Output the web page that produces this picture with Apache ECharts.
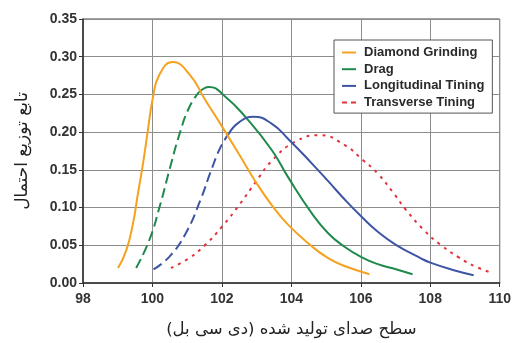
<!DOCTYPE html>
<html><head><meta charset="utf-8">
<script src="https://cdn.jsdelivr.net/npm/echarts@6/dist/echarts.min.js"></script>
<style>html,body{margin:0;padding:0;background:#fff}#c{width:514px;height:343px}</style>
</head><body><div id="c"></div>
<script>
const xTicks = [98, 100, 102, 104, 106, 108, 110];
const yTicks = [0, 0.05, 0.10, 0.15, 0.20, 0.25, 0.30, 0.35];

const diamondX = [99.01, 99.25, 99.44, 99.58, 99.72, 99.87, 100.01, 100.2, 100.58, 101.06, 101.53, 102.01, 102.49, 102.96, 103.44, 103.91, 104.58, 105.06, 105.53, 106.25];
const diamondY = [0.020, 0.044, 0.079, 0.118, 0.156, 0.203, 0.245, 0.276, 0.293, 0.277, 0.242, 0.207, 0.171, 0.135, 0.103, 0.077, 0.049, 0.033, 0.0225, 0.0117];

const dragX = [99.53, 99.91, 100.2, 100.49, 100.77, 101.06, 101.34, 101.63, 102.1, 102.68, 103.44, 103.91, 104.58, 105.06, 105.53, 106.03, 106.49, 107.06, 107.49];
const dragY = [0.020, 0.057, 0.100, 0.150, 0.196, 0.233, 0.253, 0.260, 0.247, 0.220, 0.176, 0.140, 0.093, 0.066, 0.048, 0.034, 0.025, 0.0175, 0.0117];
const dragDashEnd = 6;

const longX = [100.03, 100.49, 100.96, 101.39, 101.68, 101.96, 102.2, 102.49, 102.91, 103.44, 103.91, 104.58, 105.06, 105.53, 106.03, 106.49, 107.0, 107.72, 108.0, 108.68, 109.25];
const longY = [0.018, 0.035, 0.066, 0.111, 0.148, 0.180, 0.198, 0.213, 0.2205, 0.211, 0.191, 0.159, 0.135, 0.111, 0.0875, 0.068, 0.051, 0.033, 0.027, 0.017, 0.0104];
const longDashEnd = 6;

const transX = [100.53, 101.06, 101.53, 102.01, 102.49, 102.96, 103.44, 104.1, 104.82, 105.53, 106.06, 106.49, 106.96, 107.3, 107.82, 108.29, 108.82, 109.34, 109.82];
const transY = [0.020, 0.033, 0.051, 0.075, 0.103, 0.133, 0.162, 0.187, 0.196, 0.183, 0.163, 0.145, 0.118, 0.097, 0.070, 0.051, 0.034, 0.021, 0.013];

const names = ['Diamond Grinding', 'Drag', 'Longitudinal Tining', 'Transverse Tining'];
const colors = ['#F5A21F', '#1F8A4C', '#3E55A5', '#E2333D'];

const zip = (xs, ys) => xs.map((x, i) => [x, ys[i]]);
const F = "'Liberation Sans',Arial,sans-serif";

function line(name, data, color, type) {
  return { name, type: 'line', data, smooth: 0.5, showSymbol: false, symbol: 'none',
    lineStyle: { color, width: 2, type }, itemStyle: { color }, z: 3 };
}
const dragD = zip(dragX, dragY);
const longD = zip(longX, longY);

const option = {
  animation: false,
  grid: { left: 83, right: 11, top: 19, bottom: 54, show: true, borderColor: '#444', borderWidth: 1 },
  legend: {
    data: names.map((n, i) => ({ name: n, icon: i === 3 ? 'path://M0,0h5v2h-5z M9,0h5v2h-5z' : 'rect' })),
    orient: 'vertical', left: 334, top: 40, itemWidth: 14, itemHeight: 2, itemGap: 3.7,
    padding: [6, 8, 4, 8], borderColor: '#555', borderWidth: 1, backgroundColor: '#fff',
    textStyle: { fontFamily: F, fontSize: 13, fontWeight: 'bold', color: '#2a2a2a', padding: [0, 0, 0, 3] }
  },
  xAxis: {
    type: 'value', min: xTicks[0], max: xTicks[xTicks.length - 1], interval: 2,
    name: 'سطح صدای تولید شده (دی سی بل)', nameLocation: 'middle', nameGap: 38,
    nameTextStyle: { fontFamily: 'DejaVu Sans', fontSize: 16.5, color: '#222' },
    axisLine: { lineStyle: { color: '#333', width: 1.5 } },
    axisTick: { show: true, length: 4, lineStyle: { color: '#333' } },
    axisLabel: { fontFamily: F, fontSize: 14, fontWeight: 'bold', color: '#333', margin: 9 },
    splitLine: { show: true, lineStyle: { color: '#8c8c8c', width: 1 } }
  },
  yAxis: {
    type: 'value', min: 0, max: 0.35, interval: 0.05,
    name: 'تابع توزیع احتمال', nameLocation: 'middle', nameGap: 52,
    nameTextStyle: { fontFamily: 'DejaVu Sans', fontSize: 17, color: '#222' },
    axisLine: { show: true, lineStyle: { color: '#333', width: 1.5 } },
    axisTick: { show: true, length: 4, lineStyle: { color: '#333' } },
    axisLabel: { fontFamily: F, fontSize: 14, fontWeight: 'bold', color: '#333', margin: 6,
      formatter: v => v.toFixed(2) },
    splitLine: { show: true, lineStyle: { color: '#8c8c8c', width: 1 } }
  },
  series: [
    line(names[3], zip(transX, transY), colors[3], [3, 5]),
    line('Drag dashed', dragD.slice(0, dragDashEnd + 1), colors[1], [10, 5]),
    line(names[1], dragD.slice(dragDashEnd), colors[1], 'solid'),
    line('Long dashed', longD.slice(0, longDashEnd + 1), colors[2], [10, 5]),
    line(names[2], longD.slice(longDashEnd), colors[2], 'solid'),
    line(names[0], zip(diamondX, diamondY), colors[0], 'solid')
  ]
};
echarts.init(document.getElementById('c')).setOption(option);
</script></body></html>
